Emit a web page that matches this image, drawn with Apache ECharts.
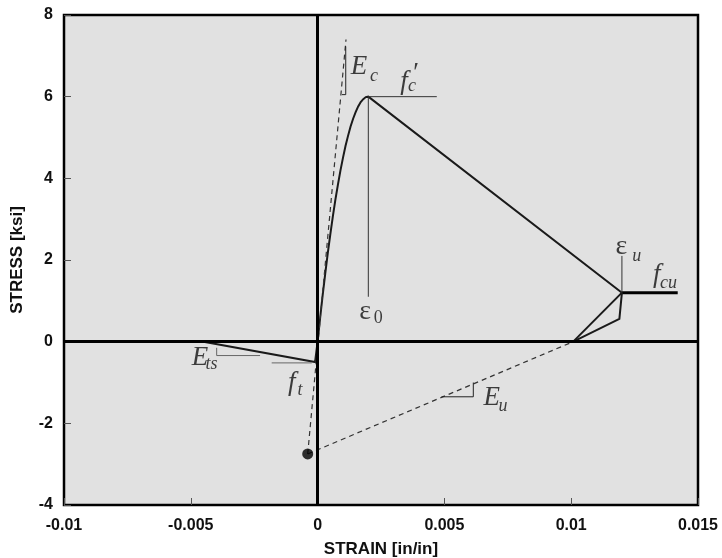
<!DOCTYPE html>
<html>
<head>
<meta charset="utf-8">
<script src="https://cdn.jsdelivr.net/npm/echarts@6/dist/echarts.min.js"></script>
<style>
  html, body { margin: 0; padding: 0; background: #fff; }
  #chart { width: 722px; height: 558px; }
</style>
</head>
<body>
<div id="chart"></div>
<script>
// Axis ranges and tick labels
const xTickLabels = ['-0.01', '-0.005', '0', '0.005', '0.01', '0.015'];
const yTickLabels = ['-4', '-2', '0', '2', '4', '6', '8'];

// Concrete stress-strain envelope: tension softening, parabolic rise to f'c, linear drop to eps_u
const envelopeStrain = [-0.0045, -0.0001, 0, 0.0001, 0.0002, 0.0003, 0.0004, 0.0005, 0.0006, 0.0007,
  0.0008, 0.0009, 0.001, 0.0011, 0.0012, 0.0013, 0.0014, 0.0015, 0.0016, 0.0017, 0.0018, 0.0019, 0.002, 0.012];
const envelopeStress = [0, -0.5, 0, 0.58, 1.14, 1.66, 2.16, 2.62, 3.06, 3.47,
  3.84, 4.19, 4.5, 4.79, 5.04, 5.27, 5.46, 5.62, 5.76, 5.87, 5.94, 5.99, 6.0, 1.2];

// Residual plateau f_cu beyond eps_u
const plateauStrain = [0.012, 0.0142];
const plateauStress = [1.2, 1.2];

// Unloading / reloading branches near eps_u
const unloadAStrain = [0.01008, 0.012];
const unloadAStress = [0, 1.2];
const unloadBStrain = [0.01008, 0.0119, 0.012];
const unloadBStress = [0, 0.56, 1.2];

// Focal point and the two dashed modulus lines through it
const focalStrain = -0.00039;
const focalStress = -2.75;
const ecLineStrain = [focalStrain, 0.00112];
const ecLineStress = [focalStress, 7.4];
const euLineStrain = [focalStrain, 0.01008];
const euLineStress = [focalStress, 0];

// Thin reference lines (eps_0 drop, f'c level, eps_u rise, f_t level)
const refLines = [
  { strain: [0.002, 0.002], stress: [6.0, 1.1] },
  { strain: [0.002, 0.0047], stress: [6.0, 6.0] },
  { strain: [0.012, 0.012], stress: [1.2, 2.1] },
  { strain: [-0.00181, -0.00023], stress: [-0.52, -0.52] }
];

// Slope markers for E_c, E_ts, E_u
const slopeMarks = [
  { strain: [0.00096, 0.00111, 0.00111], stress: [6.05, 6.05, 7.23] },
  { strain: [-0.00398, -0.00398, -0.00227], stress: [-0.15, -0.34, -0.34] },
  { strain: [0.00489, 0.00614, 0.00614], stress: [-1.35, -1.35, -1.0] }
];

// Symbol labels: [strain, stress, text]
const mainLabels = [
  [0.00163, 6.74, 'E'],
  [0.00341, 6.37, 'f'],
  [0.00382, 6.56, '′'],
  [-0.00464, -0.40, 'E'],
  [-0.00102, -1.01, 'f'],
  [0.00687, -1.37, 'E'],
  [0.01337, 1.64, 'f']
];
const greekLabels = [
  [0.00187, 0.74, 'ε'],
  [0.01198, 2.33, 'ε']
];
const subLabels = [
  [0.00222, 6.51, 'c'],
  [0.00372, 6.25, 'c'],
  [-0.00418, -0.56, 'ts'],
  [-0.00069, -1.18, 't'],
  [0.00731, -1.58, 'u'],
  [0.01384, 1.44, 'cu'],
  [0.01258, 2.09, 'u']
];
const subUprightLabels = [
  [0.00239, 0.58, '0']
];

const xMin = -0.01, xMax = 0.015, xStep = 0.005;
const yMin = -4, yMax = 8, yStep = 2;

const zip = (a, b) => a.map((v, i) => [v, b[i]]);
const sans = '"Liberation Sans", Arial, sans-serif';
const serif = '"Liberation Serif", "DejaVu Serif", serif';

function lineSeries(data, width, color, type) {
  return {
    type: 'line', data: data, symbol: 'none', silent: true,
    lineStyle: { width: width, color: color, type: type || 'solid', cap: 'butt', join: 'miter' },
    z: 3
  };
}
function textSeries(data, font, size, style) {
  return {
    type: 'scatter', data: data, symbolSize: 0, silent: true, z: 6,
    label: {
      show: true, position: 'inside',
      formatter: p => p.data[2],
      fontFamily: font, fontSize: size, fontStyle: style, color: '#111'
    }
  };
}

const chart = echarts.init(document.getElementById('chart'), null, { renderer: 'canvas' });

const series = [
  // axes through the origin
  {
    type: 'line', data: [], silent: true, z: 2,
    markLine: {
      symbol: 'none', silent: true, label: { show: false },
      lineStyle: { color: '#000', width: 3, type: 'solid' },
      data: [{ xAxis: 0 }, { yAxis: 0 }]
    }
  },
  lineSeries(zip(envelopeStrain, envelopeStress), 2, '#1a1a1a'),
  lineSeries(zip(plateauStrain, plateauStress), 3, '#000'),
  lineSeries(zip(unloadAStrain, unloadAStress), 2, '#1a1a1a'),
  lineSeries(zip(unloadBStrain, unloadBStress), 2, '#1a1a1a'),
  lineSeries(zip(ecLineStrain, ecLineStress), 1.2, '#333', [5, 4]),
  lineSeries(zip(euLineStrain, euLineStress), 1.2, '#333', [5, 4])
];
refLines.forEach(r => series.push(lineSeries(zip(r.strain, r.stress), 1, r === refLines[3] ? '#666' : '#333')));
slopeMarks.forEach((m, i) => series.push(lineSeries(zip(m.strain, m.stress), 1, i === 1 ? '#666' : '#222')));
series.push({
  type: 'scatter', data: [[focalStrain, focalStress]], symbol: 'circle', symbolSize: 11,
  itemStyle: { color: '#000' }, silent: true, z: 5
});
series.push(textSeries(mainLabels, serif, 27, 'italic'));
series.push(textSeries(greekLabels, serif, 28, 'normal'));
series.push(textSeries(subLabels, serif, 18, 'italic'));
series.push(textSeries(subUprightLabels, serif, 18, 'normal'));

chart.setOption({
  animation: false,
  backgroundColor: '#fff',
  grid: {
    left: 64, right: 24, top: 15, bottom: 53,
    containLabel: false, outerBoundsMode: 'none',
    show: true, backgroundColor: '#e1e1e1', borderColor: '#000', borderWidth: 2.5
  },
  xAxis: {
    type: 'value', min: xMin, max: xMax, interval: xStep,
    name: 'STRAIN [in/in]', nameLocation: 'middle', nameGap: 36,
    nameTextStyle: { fontFamily: sans, fontSize: 17, fontWeight: 'bold', color: '#111' },
    axisLine: { show: false, onZero: false },
    axisTick: { show: true, inside: true, length: 7, lineStyle: { color: '#555', width: 1 } },
    splitLine: { show: false },
    axisLabel: {
      margin: 13, fontFamily: sans, fontSize: 16, fontWeight: 'bold', color: '#111',
      formatter: v => xTickLabels[Math.round((v - xMin) / xStep)]
    }
  },
  yAxis: {
    type: 'value', min: yMin, max: yMax, interval: yStep,
    name: 'STRESS [ksi]', nameLocation: 'middle', nameGap: 38, nameRotate: 90,
    nameTextStyle: { fontFamily: sans, fontSize: 17, fontWeight: 'bold', color: '#111' },
    axisLine: { show: false, onZero: false },
    axisTick: { show: true, inside: true, length: 7, lineStyle: { color: '#555', width: 1 } },
    splitLine: { show: false },
    axisLabel: {
      margin: 11, fontFamily: sans, fontSize: 16, fontWeight: 'bold', color: '#111',
      formatter: v => yTickLabels[Math.round((v - yMin) / yStep)]
    }
  },
  series: series
});
</script>
</body>
</html>
